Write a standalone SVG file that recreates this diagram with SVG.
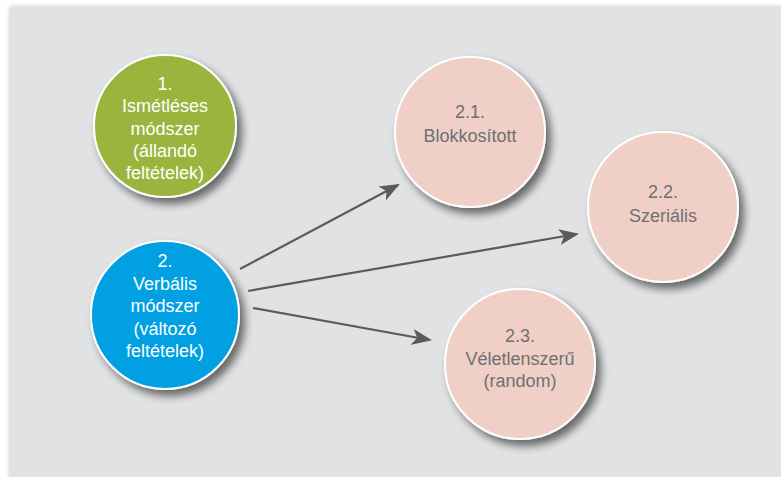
<svg xmlns="http://www.w3.org/2000/svg" width="781" height="477" viewBox="0 0 781 477">
  <defs>
    <filter id="panelShadow" x="-5%" y="-5%" width="110%" height="110%">
      <feGaussianBlur in="SourceAlpha" stdDeviation="2.5"/>
      <feOffset dx="0" dy="0"/>
      <feComponentTransfer><feFuncA type="linear" slope="0.25"/></feComponentTransfer>
      <feMerge><feMergeNode/><feMergeNode in="SourceGraphic"/></feMerge>
    </filter>
    <filter id="dropShadow" x="-20%" y="-20%" width="150%" height="150%">
      <feGaussianBlur in="SourceAlpha" stdDeviation="4"/>
      <feOffset dx="5" dy="6" result="off"/>
      <feComponentTransfer><feFuncA type="linear" slope="0.55"/></feComponentTransfer>
      <feMerge><feMergeNode/><feMergeNode in="SourceGraphic"/></feMerge>
    </filter>
    <marker id="arrow" viewBox="0 0 20 16" refX="18" refY="8" markerWidth="20" markerHeight="16" markerUnits="userSpaceOnUse" orient="auto">
      <path d="M0,0 L20,8 L0,16 L5,8 Z" fill="#5a5b5d"/>
    </marker>
  </defs>
  <style>
    .node circle { stroke: #ffffff; stroke-width: 2; }
    .green { fill: #9bb43d; }
    .blue { fill: #00a0e3; }
    .pink { fill: #f0cfc6; }
    text { font-family: "Liberation Sans", Arial, sans-serif; font-size: 18px; text-anchor: middle; }
    .light { fill: #ffffff; }
    .dark { fill: #6f7073; }
    .edge { stroke: #5a5b5d; stroke-width: 2.2; fill: none; marker-end: url(#arrow); }
  </style>

  <!-- backdrop panel -->
  <rect width="781" height="477" fill="#ffffff"/>
  <rect x="10" y="7" width="790" height="490" fill="#e1e2e4" filter="url(#panelShadow)"/>

  <!-- connectors -->
  <g id="connectors">
    <line class="edge" x1="240" y1="269" x2="398" y2="185"/>
    <line class="edge" x1="248" y1="291" x2="577" y2="234"/>
    <line class="edge" x1="253" y1="308" x2="430" y2="340"/>
  </g>

  <g id="node-1" class="node">
    <circle class="green" cx="165" cy="126" r="71" filter="url(#dropShadow)"/>
    <text class="light" x="165" y="90">1.</text>
    <text class="light" x="165" y="112">Ismétléses</text>
    <text class="light" x="165" y="135">módszer</text>
    <text class="light" x="165" y="157">(állandó</text>
    <text class="light" x="165" y="179">feltételek)</text>
  </g>

  <g id="node-2" class="node">
    <circle class="blue" cx="165" cy="315" r="74" filter="url(#dropShadow)"/>
    <text class="light" x="165" y="267">2.</text>
    <text class="light" x="165" y="290">Verbális</text>
    <text class="light" x="165" y="312">módszer</text>
    <text class="light" x="165" y="335">(változó</text>
    <text class="light" x="165" y="357">feltételek)</text>
  </g>

  <g id="node-2-1" class="node">
    <circle class="pink" cx="470" cy="132" r="75" filter="url(#dropShadow)"/>
    <text class="dark" x="470" y="118">2.1.</text>
    <text class="dark" x="470" y="142">Blokkosított</text>
  </g>

  <g id="node-2-2" class="node">
    <circle class="pink" cx="663" cy="207" r="75" filter="url(#dropShadow)"/>
    <text class="dark" x="663" y="198">2.2.</text>
    <text class="dark" x="663" y="222">Szeriális</text>
  </g>

  <g id="node-2-3" class="node">
    <circle class="pink" cx="520" cy="364" r="75" filter="url(#dropShadow)"/>
    <text class="dark" x="520" y="342">2.3.</text>
    <text class="dark" x="520" y="365">Véletlenszerű</text>
    <text class="dark" x="520" y="387">(random)</text>
  </g>
</svg>
